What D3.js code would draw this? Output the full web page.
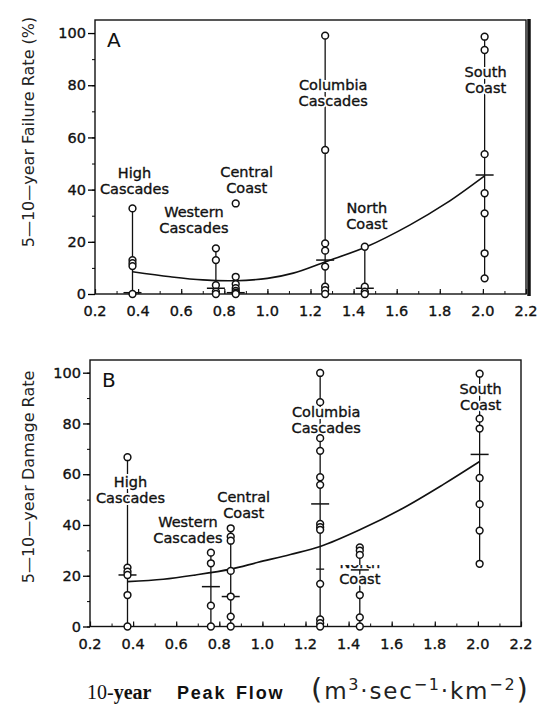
<!DOCTYPE html>
<html>
<head>
<meta charset="utf-8">
<script src="https://cdn.jsdelivr.net/npm/d3@7"></script>
<style>
  body { margin: 0; background: #fff; }
  svg { display: block; }
  .tick text { font-family: "DejaVu Sans", sans-serif; font-size: 14.5px; fill: #111; stroke: #111; stroke-width: 0.35px; }
  .lbl { font-family: "DejaVu Sans", sans-serif; font-size: 14.5px; fill: #111; }
  .num { stroke: #111; stroke-width: 0.35px; }
</style>
</head>
<body>
<div id="chart"></div>
<script>
const svgWidth = 546
const svgHeight = 707

// regions, in the order they sit along the x axis
const regions = ["High Cascades", "Western Cascades", "Central Coast", "Columbia Cascades", "North Coast", "South Coast"]
const peakFlow = [0.374, 0.761, 0.853, 1.268, 1.452, 2.008]

// panel A: 5-10-year failure rate (%)
const failurePoints = [
  [32.8, 13.0, 11.8, 10.7, 0],
  [17.5, 13.0, 3.4, 0.9, 0],
  [34.7, 6.6, 3.8, 2.2, 1.2, 0.5, 0],
  [99, 55.2, 19.4, 16.6, 10.5, 2.8, 1.5, 0],
  [18.1, 2.8, 0.9, 0],
  [98.6, 93.5, 53.6, 38.6, 30.9, 15.6, 6]
]
const failureLow = [0, 0, 0, 0, 0, 6]
const failureHigh = [32.8, 17.5, 6.6, 99, 18.1, 98.6]
const failureMean = [0.5, 2.2, 0.5, 13, 2.2, 45.6]
const failureCurveX = [0.374, 0.55, 0.70, 0.85, 1.0, 1.12, 1.27, 1.46, 1.66, 1.83, 2.008]
const failureCurveY = [8.5, 6.6, 5.4, 5.1, 6.0, 8.0, 12.4, 18.1, 26.4, 34.8, 45.3]

// panel B: 5-10-year damage rate
const damagePoints = [
  [66.7, 23.2, 21.6, 20.3, 12.4, 0],
  [29.1, 24.9, 8.2, 0],
  [38.7, 35.4, 33.8, 21.9, 11.8, 3.9, 0],
  [99.9, 88.4, 74.2, 69.2, 58.8, 55.8, 40.4, 39.1, 38.1, 16.8, 2.8, 1.3, 0],
  [31.2, 29.9, 28.2, 12.4, 3.6, 0],
  [99.6, 81.9, 78, 58.5, 48.2, 37.8, 24.7]
]
const damageLow = [0, 0, 0, 0, 0, 24.7]
const damageHigh = [66.7, 29.1, 38.7, 99.9, 31.2, 99.6]
const damageMean = [20.3, 15.7, 11.8, 48.3, 22.3, 67.8]
const damageSmallTick = [null, null, null, 22.6, null, null]
const damageCurveX = [0.374, 0.54, 0.69, 0.853, 0.98, 1.13, 1.268, 1.452, 1.65, 1.84, 2.008]
const damageCurveY = [17.7, 18.6, 20.3, 22.6, 25.3, 28.4, 31.5, 38.1, 46.5, 56, 65]

const xTicks = [0.2, 0.4, 0.6, 0.8, 1.0, 1.2, 1.4, 1.6, 1.8, 2.0, 2.2]
const yTicks = [0, 20, 40, 60, 80, 100]

let svg = d3.select("#chart")
  .append("svg")
  .attr("width", svgWidth)
  .attr("height", svgHeight)

// label placement: dx from the region's x (px), baseline of first line in data units
const labelsA = [
  { dx: 2, y: 44.4 }, { dx: -22, y: 29.5 }, { dx: 11, y: 44.8 },
  { dx: 8, y: 78.2 }, { dx: 2, y: 31 }, { dx: 1, y: 83.1 }
]
const labelsB = [
  { dx: 3, y: 55 }, { dx: -23, y: 39.2 }, { dx: 13, y: 49.1 },
  { dx: 6, y: 82.6 }, { dx: 0, y: 23 }, { dx: 1, y: 91.7 }
]

function drawPanel(opt) {
  let x = d3.scaleLinear().domain([0.2, 2.2]).range([opt.left, opt.right])
  let y = d3.scaleLinear().domain([0, 105]).range([opt.bottom, opt.top])
  let g = svg.append("g")

  // frame
  g.append("rect")
    .attr("x", opt.left).attr("y", opt.top)
    .attr("width", opt.right - opt.left).attr("height", opt.bottom - opt.top)
    .attr("fill", "none").attr("stroke", "#111").attr("stroke-width", 1.4)

  // x axis: ticks point inward
  let xAxis = g.append("g")
    .attr("transform", `translate(0, ${opt.bottom})`)
    .call(d3.axisTop(x).tickValues(d3.range(0.2, 2.25, 0.1)).tickSize(3).tickFormat(""))
  xAxis.select(".domain").remove()
  xAxis.selectAll("line").attr("stroke", "#111")

  let xMajor = g.append("g")
    .attr("transform", `translate(0, ${opt.bottom})`)
    .call(d3.axisTop(x).tickValues(xTicks).tickSize(5).tickFormat(""))
  xMajor.select(".domain").remove()
  xMajor.selectAll("line").attr("stroke", "#111").attr("stroke-width", 1.2)

  g.selectAll(".xlab")
    .data(xTicks)
    .enter()
    .append("text")
    .attr("class", "lbl num")
    .attr("x", d => x(d))
    .attr("y", opt.bottom + 22)
    .attr("text-anchor", "middle")
    .text(d => d.toFixed(1))

  // y axis: ticks point outward
  let yMinor = g.append("g")
    .attr("transform", `translate(${opt.left}, 0)`)
    .call(d3.axisLeft(y).tickValues(d3.range(0, 101, 10)).tickSize(3).tickFormat(""))
  yMinor.select(".domain").remove()

  let yAxis = g.append("g")
    .attr("transform", `translate(${opt.left}, 0)`)
    .call(d3.axisLeft(y).tickValues(yTicks).tickSize(7).tickPadding(2))
  yAxis.select(".domain").remove()
  yAxis.selectAll("line").attr("stroke-width", 1.3)

  // range lines
  g.selectAll(".range")
    .data(regions)
    .enter()
    .append("line")
    .attr("x1", (d, i) => x(peakFlow[i]))
    .attr("x2", (d, i) => x(peakFlow[i]))
    .attr("y1", (d, i) => y(opt.low[i]))
    .attr("y2", (d, i) => y(opt.high[i]))
    .attr("stroke", "#111")
    .attr("stroke-width", 1.3)

  // fitted curve
  let line = d3.line()
    .x(d => x(d[0]))
    .y(d => y(d[1]))
    .curve(d3.curveCatmullRom.alpha(0.5))
  g.append("path")
    .datum(opt.curveX.map((d, i) => [d, opt.curveY[i]]))
    .attr("d", line)
    .attr("fill", "none")
    .attr("stroke", "#111")
    .attr("stroke-width", 1.6)

  // region labels with a white halo so they break the lines
  regions.forEach((r, i) => {
    let words = r.split(" ")
    let cx = x(peakFlow[i]) + opt.labels[i].dx
    let by = y(opt.labels[i].y)
    words.forEach((w, k) => {
      let halo = g.append("text")
        .attr("class", "lbl")
        .attr("x", cx)
        .attr("y", by + k * 16)
        .attr("text-anchor", "middle")
        .attr("stroke", "#fff")
        .attr("stroke-width", 4)
        .text(w)
      let t = g.append("text")
        .attr("class", "lbl num")
        .attr("x", cx)
        .attr("y", by + k * 16)
        .attr("text-anchor", "middle")
        .text(w)
      if (opt.hideNorth && r === "North Coast" && k === 0) {
        // the word is mostly lost in the original print
        g.append("clipPath").attr("id", "clipNorth")
          .append("rect")
          .attr("x", cx - 30).attr("y", by - 3)
          .attr("width", 60).attr("height", 6)
        t.attr("clip-path", "url(#clipNorth)")
        halo.attr("clip-path", "url(#clipNorth)")
      }
    })
  })

  // mean markers
  g.selectAll(".mean")
    .data(regions)
    .enter()
    .append("line")
    .attr("x1", (d, i) => x(peakFlow[i]) - 9)
    .attr("x2", (d, i) => x(peakFlow[i]) + 9)
    .attr("y1", (d, i) => y(opt.mean[i]))
    .attr("y2", (d, i) => y(opt.mean[i]))
    .attr("stroke", "#111")
    .attr("stroke-width", 1.5)

  if (opt.smallTick) {
    opt.smallTick.forEach((v, i) => {
      if (v === null) return
      g.append("line")
        .attr("x1", x(peakFlow[i]) - 4).attr("x2", x(peakFlow[i]) + 4)
        .attr("y1", y(v)).attr("y2", y(v))
        .attr("stroke", "#111").attr("stroke-width", 1.3)
    })
  }

  // observations
  let pts = []
  opt.points.forEach((arr, i) => arr.forEach(v => pts.push([peakFlow[i], v])))
  g.selectAll(".pt")
    .data(pts)
    .enter()
    .append("circle")
    .attr("cx", d => x(d[0]))
    .attr("cy", d => y(d[1]))
    .attr("r", 3.4)
    .attr("fill", "#fff")
    .attr("stroke", "#111")
    .attr("stroke-width", 1.5)

  // panel letter
  g.append("text")
    .attr("x", opt.left + 12)
    .attr("y", y(100) + 14)
    .style("font-family", "DejaVu Sans, sans-serif")
    .style("font-size", "20px")
    .attr("fill", "#111")
    .text(opt.letter)

  // y title
  g.append("text")
    .attr("transform", `translate(34, ${opt.titleY}) rotate(-90)`)
    .attr("text-anchor", "middle")
    .style("font-family", "DejaVu Sans, sans-serif")
    .style("font-size", "16px")
    .attr("fill", "#222")
    .text(opt.title)

  return g
}

drawPanel({
  left: 95, right: 526, top: 20, bottom: 294,
  points: failurePoints, low: failureLow, high: failureHigh, mean: failureMean,
  curveX: failureCurveX, curveY: failureCurveY, labels: labelsA,
  letter: "A", title: "5\u201410\u2014year Failure Rate (%)", titleY: 132
})

// heavy bar along the right edge of panel A
svg.append("line")
  .attr("x1", 529).attr("x2", 529)
  .attr("y1", 19).attr("y2", 296)
  .attr("stroke", "#111").attr("stroke-width", 3.5)

drawPanel({
  left: 90, right: 521, top: 360, bottom: 626.5,
  points: damagePoints, low: damageLow, high: damageHigh, mean: damageMean,
  smallTick: damageSmallTick,
  curveX: damageCurveX, curveY: damageCurveY, labels: labelsB, hideNorth: true,
  letter: "B", title: "5\u201410\u2014year Damage Rate", titleY: 477
})

// x title
let xt = svg.append("text")
  .attr("x", 87)
  .attr("y", 699)
  .attr("fill", "#111")
  .style("font-family", "Liberation Serif, serif")
  .style("font-size", "20px")
xt.append("tspan").text("10-")
xt.append("tspan").style("font-weight", "bold").text("year")

svg.append("text")
  .attr("x", 177)
  .attr("y", 699)
  .style("font-family", "Liberation Sans, sans-serif")
  .style("font-size", "18px")
  .style("font-weight", "bold")
  .style("letter-spacing", "1.8px")
  .style("word-spacing", "3px")
  .attr("fill", "#111")
  .text("Peak Flow")

let units = svg.append("text")
  .attr("x", 311)
  .attr("y", 699)
  .style("font-family", "DejaVu Sans, sans-serif")
  .style("font-size", "23px")
  .style("letter-spacing", "1.8px")
  .attr("fill", "#222")
units.append("tspan").style("font-size", "29px").text("(")
units.append("tspan").text("m")
units.append("tspan").attr("dy", -9).style("font-size", "16px").text("3")
units.append("tspan").attr("dy", 9).text("\u00b7sec")
units.append("tspan").attr("dy", -9).style("font-size", "16px").text("\u22121")
units.append("tspan").attr("dy", 9).text("\u00b7km")
units.append("tspan").attr("dy", -9).style("font-size", "16px").text("\u22122")
units.append("tspan").attr("dy", 9).style("font-size", "29px").text(")")
</script>
</body>
</html>
